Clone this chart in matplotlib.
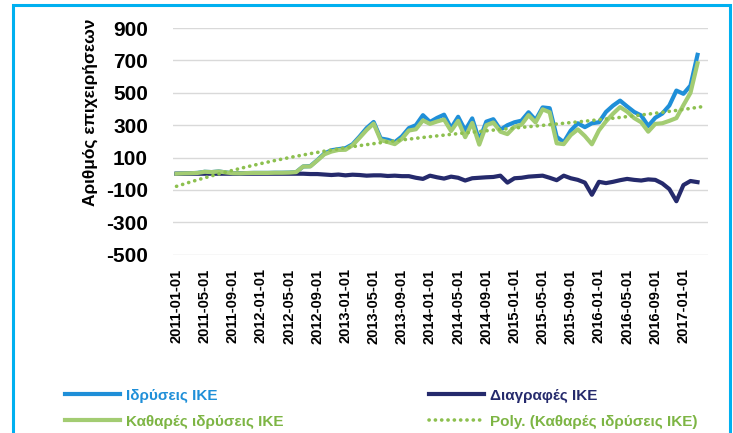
import matplotlib
matplotlib.use("Agg")
import matplotlib.pyplot as plt
from matplotlib.patches import Rectangle
import numpy as np
import pandas as pd

plt.rcParams['font.family'] = ['Liberation Sans', 'DejaVu Sans']
plt.rcParams['axes.unicode_minus'] = False

# monthly data, 2011-01 .. 2017-03
months = pd.date_range("2011-01-01", periods=75, freq="MS").strftime("%Y-%m-%d").tolist()

idryseis = [0, 2, 3, 5, 12, 10, 14, 8, 3, 2, 4, 5, 5, 5, 6, 6, 7,
            10, 45, 47, 84, 125, 145, 152, 158, 182, 230, 282, 320,
            218, 210, 195, 230, 282, 300, 362, 320, 345, 365, 282,
            352, 268, 342, 205, 322, 337, 272, 300, 318, 328, 380,
            332, 410, 405, 228, 195, 267, 312, 288, 312, 318, 382,
            421, 452, 416, 382, 360, 295, 346, 372, 422, 514, 494,
            545, 735]

diagrafes = [0, 0, 0, 0, 0, 0, 0, 0, 0, 0, 0, 0, 0, 0, 0, 0, 0,
             0, 0, -2, -2, -5, -8, -5, -10, -6, -8, -12, -10,
             -10, -14, -12, -15, -15, -25, -32, -12, -22, -30, -18,
             -25, -42, -28, -25, -22, -20, -12, -55, -28, -25, -18,
             -15, -12, -25, -40, -12, -28, -38, -55, -130, -50, -58,
             -50, -40, -32, -38, -42, -35, -38, -60, -95, -170, -70,
             -45, -52]

kathares = [a + b for a, b in zip(idryseis, diagrafes)]

c_blue = "#1F8FD8"
c_navy = "#252A6C"
c_green = "#A3CC72"
c_green_txt = "#7DB544"

fig = plt.figure(figsize=(7.33, 4.33), dpi=100)
ax = fig.add_axes([0.236, 0.412, 0.73, 0.523])

x = np.arange(len(months))
l1, = ax.plot(x, idryseis, color=c_blue, lw=3, solid_joinstyle="round")
l2, = ax.plot(x, diagrafes, color=c_navy, lw=3, solid_joinstyle="round")
l3, = ax.plot(x, kathares, color=c_green, lw=3, solid_joinstyle="round")

# polynomial trendline of net registrations
coef = np.polyfit(x + 1, kathares, 3)
xt = np.linspace(0, len(months) - 0.3, 200)
l4, = ax.plot(xt, np.polyval(coef, xt + 1), color="#8DC04F", lw=2.6,
              linestyle=(0, (0.05, 1.7)), dash_capstyle="round")

ax.set_xlim(-0.5, 75.5)
ax.set_ylim(-500, 900)
ax.set_yticks(range(-500, 901, 200))
ax.set_xticks(x[::4])
ax.set_xticklabels(months[::4], rotation=90, fontsize=10.5, fontweight="bold")
ax.tick_params(axis="y", labelsize=15, length=0, pad=18)
ax.tick_params(axis="x", length=0, pad=10)
for t in ax.get_yticklabels():
    t.set_fontweight("bold")
ax.grid(axis="y", color="#D9D9D9", lw=1)
ax.set_axisbelow(True)
for s in ax.spines.values():
    s.set_visible(False)

ax.set_ylabel("Αριθμός επιχειρήσεων", fontsize=12.5, fontweight="bold")
ax.yaxis.set_label_coords(-0.14, 0.63)

leg = fig.legend([l1, l3, l2, l4],
                 ["Ιδρύσεις ΙΚΕ", "Καθαρές ιδρύσεις ΙΚΕ", "Διαγραφές ΙΚΕ",
                  "Poly. (Καθαρές ιδρύσεις ΙΚΕ)"],
                 ncol=2, loc="lower left", bbox_to_anchor=(0.07, -0.022),
                 frameon=False, handlelength=3.6, columnspacing=9.5,
                 handletextpad=0.4, labelspacing=0.8,
                 prop={"size": 11, "weight": "bold"})
for txt, col in zip(leg.get_texts(), [c_blue, c_green_txt, c_navy, c_green_txt]):
    txt.set_color(col)

fig.patches.append(Rectangle((13 / 733, -0.02), (730 - 13) / 733, 1 - 5 / 433 + 0.02,
                             transform=fig.transFigure, fill=False,
                             edgecolor="#00B0F0", lw=2.2))

fig.savefig("out.png", dpi=100)
